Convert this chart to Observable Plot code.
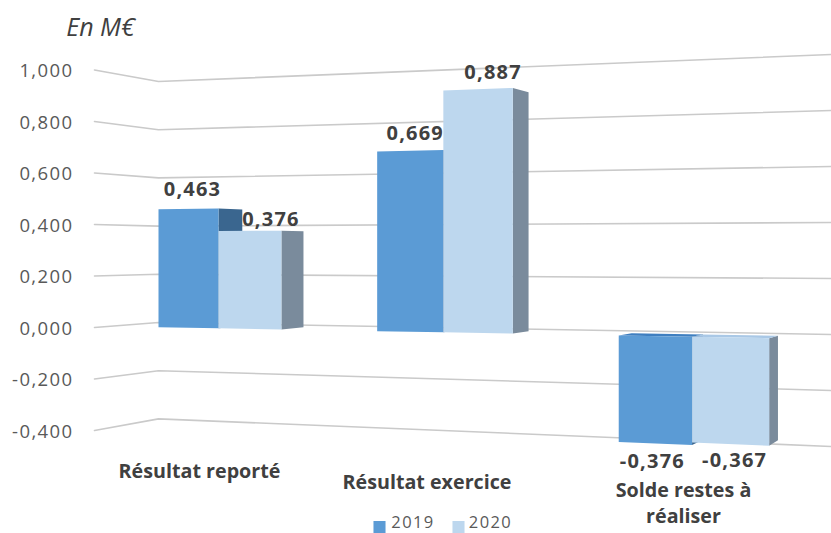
<!DOCTYPE html>
<html>
<head>
<meta charset="utf-8">
<script src="https://cdn.jsdelivr.net/npm/d3@7"></script>
<script src="https://cdn.jsdelivr.net/npm/@observablehq/plot@0.6"></script>
<style>
html,body{margin:0;padding:0;background:#fff}
svg{display:block}
.num text{letter-spacing:1.2px}
.tick text{letter-spacing:1.4px}
.leg text{letter-spacing:1.4px}
</style>
</head>
<body>
<div id="chart"></div>
<script>
const categories = ["Résultat reporté", "Résultat exercice", "Solde restes à\nréaliser"];
const values2019 = [0.463, 0.669, -0.376];
const values2020 = [0.376, 0.887, -0.367];
const seriesNames = ["2019", "2020"];
const tickValues = [1, 0.8, 0.6, 0.4, 0.2, 0, -0.2, -0.4];

const fmt = d => d3.format(".3f")(d).replace(".", ",").replace("−", "-");

// Perspective of the 3D chart: screen px -> left-axis value units
const toY = sy => (327 - sy) / 257.5;
const vp = [1092, 249], depth = 0.0272;
const frontX = u => 158 + 208.3 * u / (1 - 0.0474 * u);
const frontY = (x, v) => 326.7 + 0.018 * (x - 158) - (255 + 0.062 * (x - 158)) * v;
const front = (u, v) => { const x = frontX(u); return [x, frontY(x, v)]; };
const back = ([x, y]) => [x + depth * (vp[0] - x), y + depth * (vp[1] - y)];
const wallY = (x, v) => x <= 158
  ? 327 + (322 - 327) * (x - 94) / 64 - (257.5 + (241 - 257.5) * (x - 94) / 64) * v
  : 322 + (334 - 322) * (x - 158) / 673 - (241 + (280 - 241) * (x - 158) / 673) * v;

const grid = tickValues.flatMap(t => [94, 158, 831].map(x => ({t, x, y: toY(wallY(x, t))})));

const barEdges = [0, 0.2842, 0.574];
const colors = {
  front: ["#5b9bd5", "#bdd7ee"],
  side: ["#3a668f", "#7a8b9c"],
  top: ["#3f7fc0", "#a9c8e6"]
};
const faces = [];
let faceId = 0;
const addFace = (fill, pts) => {
  const id = faceId++;
  pts.forEach(([x, y]) => faces.push({id, fill, x, y: toY(y)}));
};
categories.forEach((c, i) => {
  [values2019[i], values2020[i]].forEach((v, s) => {
    const u0 = i + barEdges[s], u1 = i + barEdges[s + 1];
    const a = front(u0, 0), b = front(u1, 0), tl = front(u0, v), tr = front(u1, v);
    addFace(colors.side[s], [b, tr, back(tr), back(b)]);
    if (v < 0) addFace(colors.top[s], [a, b, back(b), back(a)]);
    addFace(colors.front[s], [a, b, tr, tl]);
  });
});

const labelOffsets = [[[4, -19], [21, -11]], [[5, -16], [15, -15]], [[-3, 16], [4, 15]]];
const barLabels = categories.flatMap((c, i) =>
  [values2019[i], values2020[i]].map((v, s) => {
    const [x0] = front(i + barEdges[s], v), [x1, yy] = front(i + barEdges[s + 1], v);
    const [dx, dy] = labelOffsets[i][s];
    return {x: (x0 + x1) / 2 + dx, y: toY(yy + dy), text: fmt(v)};
  }));

const catPos = [[199, 469], [426.5, 480], [683, 501.5]];
const catLabels = categories.map((c, i) => ({x: catPos[i][0], y: toY(catPos[i][1]), text: c}));

const legend = seriesNames.map((s, i) => ({
  name: s, fill: colors.front[i], sx: 379 + i * 79, tx: 412.5 + i * 77.5, sy: toY(526.5), y: toY(522)
}));

const sansFont = "'Open Sans', sans-serif";

const chart = Plot.plot({
  width: 831,
  height: 533,
  marginLeft: 73,
  marginRight: 0,
  marginTop: 0,
  marginBottom: 0,
  style: {background: "#fff", fontFamily: sansFont, overflow: "visible"},
  x: {domain: [0, 831], range: [0, 831], axis: null},
  y: {domain: [1, -0.4], range: [69.5, 430], axis: null},
  color: {type: "identity"},
  marks: [
    Plot.line(grid, {x: "x", y: "y", z: "t", stroke: "#cacaca", strokeWidth: 1.6}),
    Plot.axisY({
      anchor: "left", ticks: tickValues, tickSize: 0, tickPadding: 0,
      tickFormat: fmt, label: null, fontSize: 18.5, fill: "#595959", dy: 1.5, className: "tick"
    }),
    Plot.line(faces, {x: "x", y: "y", z: "id", fill: "fill", stroke: null}),
    Plot.text(barLabels, {
      x: "x", y: "y", text: "text", fontSize: 20, fontWeight: 700, fill: "#404040", className: "num"
    }),
    Plot.text(catLabels, {
      x: "x", y: "y", text: "text", fontSize: 19.7, fontWeight: 700, fill: "#404040", lineHeight: 1.32
    }),
    Plot.text([{x: 100, y: toY(27), text: "En M€"}], {
      x: "x", y: "y", text: "text", fontSize: 25, fontStyle: "italic", fill: "#404040"
    }),
    Plot.dot(legend, {x: "sx", y: "sy", fill: "fill", symbol: "square", r: 6.8, stroke: null}),
    Plot.text(legend, {
      x: "tx", y: "y", text: "name", fontSize: 16.5, fill: "#595959", className: "leg"
    })
  ]
});
document.getElementById("chart").appendChild(chart);
</script>
</body>
</html>
